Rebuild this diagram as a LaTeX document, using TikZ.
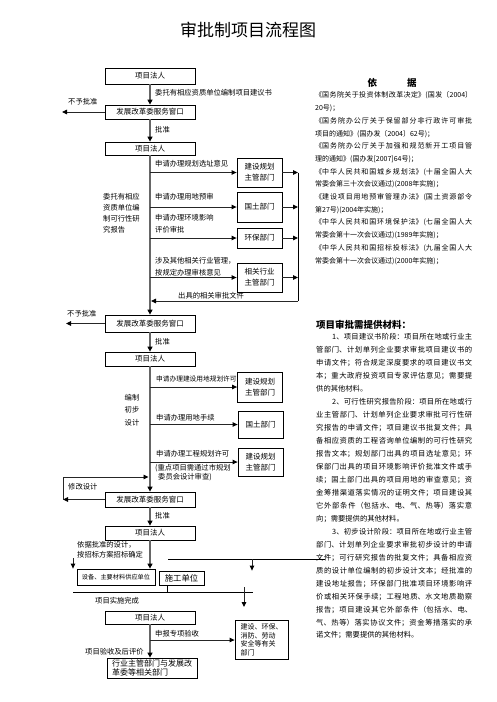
\documentclass[tikz,border=0pt]{standalone}
\usepackage{fontspec}
\setmainfont{Noto Sans CJK SC}
\usetikzlibrary{arrows.meta,positioning}
\XeTeXlinebreaklocale "zh"
\XeTeXlinebreakskip=0pt plus 2pt minus 0.5pt
\setlength{\parindent}{0pt}
\tolerance=9999

\tikzset{
  box/.style={draw, line width=0.8pt, minimum width=90pt, inner sep=0pt, font=\fontsize{7.5}{9}\selectfont},
  dept/.style={draw, line width=0.8pt, minimum width=45pt, inner sep=0pt, align=center, font=\fontsize{7.5}{11}\selectfont},
  flow/.style={draw=black!60, line width=1.8pt, -{Triangle[length=5pt,width=5pt,color=black]}},
  link/.style={draw=black!85, line width=0.9pt, -{Triangle[length=5pt,width=4.5pt,color=black]}},
  plainline/.style={draw=black, line width=0.8pt},
  lbl/.style={anchor=west, inner sep=0pt, font=\fontsize{7.3}{11}\selectfont},
  para/.style={anchor=north west, inner sep=0pt, align=justify},
}

\begin{document}
\begin{tikzpicture}[x=1pt, y=-1pt]
  \useasboundingbox (0,0) rectangle (496,702);
  \node[font=\fontsize{17}{20}\selectfont] (title) at (248,30) {审批制项目流程图};

  \node[box, minimum height=16pt] (fr1) at (150,76) {项目法人};
  \node[box, minimum height=14pt] (win1) at (150,112) {发展改革委服务窗口};
  \node[box, minimum height=13pt] (fr2) at (150,148.5) {项目法人};
  \node[box, minimum height=17pt] (win2) at (150,323.5) {发展改革委服务窗口};
  \node[box, minimum height=14pt] (fr3) at (150,359) {项目法人};
  \node[box, minimum height=15pt] (win3) at (150,499.5) {发展改革委服务窗口};
  \node[box, minimum height=14pt] (fr4) at (150,533) {项目法人};
  \node[box, minimum height=13pt] (fr5) at (150,617.5) {项目法人};
  \node[box, minimum height=20pt, align=left, font=\fontsize{8}{9.5}\selectfont] (org) at (152,668) {行业主管部门与发展改\\革委等相关部门};
  \node[box, minimum width=78pt, minimum height=16pt, font=\fontsize{6.2}{8}\selectfont] (supply) at (116,577) {设备、主要材料供应单位};
  \node[box, minimum width=45pt, minimum height=14pt, font=\fontsize{8.3}{10}\selectfont] (build) at (181.5,578) {施工单位};

  \node[dept, minimum height=29pt] (plan1) at (259.5,172.5) {建设规划\\主管部门};
  \node[dept, minimum height=30pt] (land1) at (259.5,207) {国土部门};
  \node[dept, minimum height=20pt] (env) at (259.5,238) {环保部门};
  \node[dept, minimum height=29pt] (ind) at (259.5,277.5) {相关行业\\主管部门};
  \node[dept, minimum height=30pt] (plan2) at (260,387) {建设规划\\主管部门};
  \node[dept, minimum height=27pt] (land2) at (260.5,424.5) {国土部门};
  \node[dept, minimum height=28pt] (plan3) at (260.5,462) {建设规划\\主管部门};
  \node[dept, minimum width=53pt, minimum height=39pt, align=left, font=\fontsize{7}{8.5}\selectfont] (acc) at (261.5,640) {建设、环保、\\消防、劳动\\安全等有关\\部门};

  \draw[flow] (fr1) -- (win1);
  \draw[flow] (win1) -- (fr2);
  \draw[flow] (fr2) -- (win2);
  \draw[flow] (win2) -- (fr3);
  \draw[flow] (fr3) -- (win3);
  \draw[flow] (win3) -- (fr4);
  \draw[flow] (fr4) -- (fr4.south |- supply.north);
  \draw[flow] (fr5) -- (fr5.south |- org.north);

  \coordinate (rj1) at (62,112);
  \coordinate (rj2) at (66,323.5);
  \draw[link] (win1) -- (rj1);
  \draw[link] (win2) -- (rj2);

  \coordinate (col) at (298,301);
  \foreach \d in {plan1,land1,env,ind} {
    \draw[link] (fr2.south |- \d.west) -- (\d.west);
    \draw[link] (\d.east) -- (\d.east -| col);
  }
  \draw[plainline] (col |- plan1.east) -- (col);
  \draw[link, shorten >=1pt] (col) -- (fr2.south |- col);

  \foreach \d in {plan2,land2,plan3}
    \draw[link] (fr3.south |- \d.west) -- (\d.west);
  \coordinate (mt) at (63,477);
  \coordinate (mb) at (63,499.5);
  \draw[link] (win3) -- (mb);
  \draw[link, shorten >=1.5pt] (mb) -- (mt) -- (fr3.south |- mt);

  \coordinate (sa) at (73,558);
  \draw[link] (sa) -- (sa |- supply.north);
  \coordinate (ul) at (168,559);
  \coordinate (ur) at (325,559);
  \coordinate (ua) at (252,559);
  \draw[plainline] (ul) -- (ur);
  \draw[link] (ua) -- (ua |- build.north);
  \coordinate (ll) at (73,592);
  \coordinate (lr) at (253,592);
  \coordinate (tk) at (167,592);
  \draw[plainline] (ll) -- (lr);
  \draw[plainline] (build.south -| tk) -- (tk);
  \coordinate (la) at (244,587);
  \coordinate (lb) at (244,607);
  \draw[link] (la) -- (lb);
  \draw[link] (fr5.south |- acc.west) -- (acc.west);

  \foreach \x/\y/\t in {155/93/委托有相应资质单位编制项目建议书, 155/130/批准, 68/102/不予批准,
      155/164/申请办理规划选址意见, 155/197/申请办理用地预审, 178/296/出具的相关审批文件,
      67/314/不予批准, 155/342/批准, 156/418/申请办理用地手续, 156/454/申请办理工程规划许可,
      68/487/修改设计, 155/516/批准, 95/601/项目实施完成, 155/634/申报专项验收, 85/652/项目验收及后评价}
    \node[lbl] (lb\y) at (\x,\y) {\t};
  \node[lbl, align=left, font=\fontsize{7.3}{12}\selectfont] (envlbl) at (155,224) {申请办理环境影响\\评价审批};
  \node[lbl, align=left, font=\fontsize{7.3}{12}\selectfont] (indlbl) at (155,267) {涉及其他相关行业管理，\\按规定办理审核意见};
  \node[lbl, align=left, font=\fontsize{7.3}{11}\selectfont] (study) at (103,213.5) {委托有相应\\资质单位编\\制可行性研\\究报告};
  \node[lbl, font=\fontsize{6.7}{9}\selectfont] (plan2lbl) at (156,379) {申请办理建设用地规划许可};
  \node[lbl, align=left, font=\fontsize{7.3}{9}\selectfont] (plan3note) at (155,472.5) {(重点项目需通过市规划\\\hspace*{3pt}委员会设计审查)};
  \node[lbl, anchor=center, align=center, font=\fontsize{7.3}{12.5}\selectfont] (design) at (132,410) {编制\\初步\\设计};
  \node[lbl, align=left, font=\fontsize{7.3}{10}\selectfont] (tender) at (77,550) {依据批准的设计，\\按招标方案招标确定};

  \node[font=\bfseries\fontsize{9.5}{11}\selectfont] (basishead) at (392,83) {依\hspace{30pt}据};
  \node[para, text width=157pt, font=\fontsize{7}{12.7}\selectfont] (basis) at (315,91.7) {%
    《国务院关于投资体制改革决定》(国发〔2004〕\linebreak
    20号)；\par
    《国务院办公厅关于保留部分非行政许可审批\linebreak
    项目的通知》(国办发〔2004〕62号)；\par
    《国务院办公厅关于加强和规范新开工项目管\linebreak
    理的通知》(国办发[2007]64号)；\par
    《中华人民共和国城乡规划法》(十届全国人大\linebreak
    常委会第三十次会议通过)(2008年实施)；\par
    《建设项目用地预审管理办法》(国土资源部令\linebreak
    第27号)(2004年实施)；\par
    《中华人民共和国环境保护法》(七届全国人大\linebreak
    常委会第十一次会议通过)(1989年实施)；\par
    《中华人民共和国招标投标法》(九届全国人大\linebreak
    常委会第十一次会议通过)(2000年实施)；};

  \node[lbl, font=\bfseries\fontsize{9.5}{11}\selectfont] (mathead) at (316,325) {项目审批需提供材料：};
  \node[para, text width=156pt, font=\fontsize{7.3}{12.96}\selectfont] (materials) at (316,333.5) {%
    \hspace*{16pt}1、项目建议书阶段：项目所在地或行业主\linebreak
    管部门、计划单列企业要求审批项目建议书的\linebreak
    申请文件；符合规定深度要求的项目建议书文\linebreak
    本；重大政府投资项目专家评估意见；需要提\linebreak
    供的其他材料。\par
    \hspace*{16pt}2、可行性研究报告阶段：项目所在地或行\linebreak
    业主管部门、计划单列企业要求审批可行性研\linebreak
    究报告的申请文件；项目建议书批复文件；具\linebreak
    备相应资质的工程咨询单位编制的可行性研究\linebreak
    报告文本；规划部门出具的项目选址意见；环\linebreak
    保部门出具的项目环境影响评价批准文件或手\linebreak
    续；国土部门出具的项目用地的审查意见；资\linebreak
    金筹措渠道落实情况的证明文件；项目建设其\linebreak
    它外部条件（包括水、电、气、热等）落实意\linebreak
    向；需要提供的其他材料。\par
    \hspace*{16pt}3、初步设计阶段：项目所在地或行业主管\linebreak
    部门、计划单列企业要求审批初步设计的申请\linebreak
    文件；可行研究报告的批复文件；具备相应资\linebreak
    质的设计单位编制的初步设计文本；经批准的\linebreak
    建设地址报告；环保部门批准项目环境影响评\linebreak
    价或相关环保手续；工程地质、水文地质勘察\linebreak
    报告；项目建设其它外部条件（包括水、电、\linebreak
    气、热等）落实协议文件；资金筹措落实的承\linebreak
    诺文件；需要提供的其他材料。};
\end{tikzpicture}
\end{document}
